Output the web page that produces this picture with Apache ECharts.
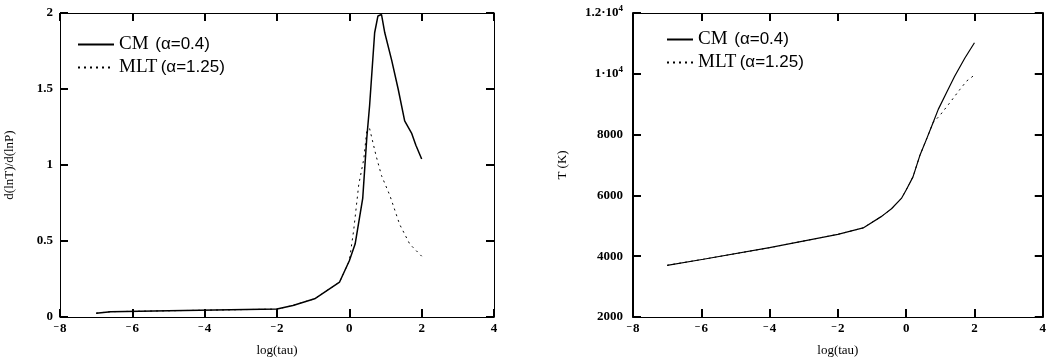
<!DOCTYPE html>
<html>
<head>
<meta charset="utf-8">
<script src="https://cdn.jsdelivr.net/npm/echarts@6/dist/echarts.min.js"></script>
<style>
  html, body { margin: 0; padding: 0; background: #fff; }
  #chart { width: 1049px; height: 362px; }
</style>
</head>
<body>
<div id="chart"></div>
<script>
// legend names
var nameCM = 'CM';
var nameMLT = 'MLT';

// left panel: d(lnT)/d(lnP) against log(tau)
var gradCmTau = [-7, -6.6, -5, -2, -1.56, -0.96, -0.27, 0.0, 0.16, 0.37, 0.48, 0.56, 0.70, 0.79, 0.89, 0.98, 1.17, 1.35, 1.53, 1.72, 1.84, 2.0];
var gradCm    = [0.025, 0.035, 0.041, 0.052, 0.076, 0.12, 0.23, 0.37, 0.48, 0.78, 1.17, 1.39, 1.87, 1.98, 1.99, 1.87, 1.69, 1.50, 1.29, 1.21, 1.13, 1.04];
var gradMltTau = [-7, -6.6, -5, -2, -1.56, -0.96, -0.27, 0.0, 0.12, 0.26, 0.40, 0.48, 0.56, 0.74, 0.89, 1.12, 1.39, 1.67, 2.0];
var gradMlt    = [0.025, 0.035, 0.041, 0.052, 0.076, 0.12, 0.23, 0.37, 0.57, 0.87, 1.04, 1.22, 1.24, 1.06, 0.93, 0.80, 0.61, 0.48, 0.40];

// right panel: T (K) against log(tau)
var tempCmTau = [-7, -5.94, -4, -2, -1.26, -0.72, -0.43, -0.14, 0, 0.2, 0.4, 0.6, 0.79, 0.94, 1.18, 1.42, 1.72, 2.0];
var tempCm    = [3700, 3900, 4280, 4720, 4930, 5310, 5560, 5900, 6180, 6610, 7310, 7860, 8400, 8830, 9380, 9920, 10520, 11020];
var tempMltTau = [-7, -5.94, -4, -2, -1.26, -0.72, -0.43, -0.14, 0, 0.2, 0.4, 0.6, 0.79, 0.98, 1.28, 1.57, 1.77, 2.0];
var tempMlt    = [3700, 3900, 4280, 4720, 4930, 5310, 5560, 5900, 6180, 6610, 7310, 7860, 8400, 8620, 9050, 9480, 9760, 9960];

function pairs(xs, ys) {
  return xs.map(function (x, i) { return [x, ys[i]]; });
}

var serif = 'Liberation Serif';
// symbol that paints nothing, so the legend shows only the line sample
var blankSymbol = 'path://M0,0M10,10';

function labelStyle(extra) {
  return Object.assign({ fontFamily: serif, fontSize: 13, fontWeight: 'bold', color: '#000' }, extra);
}
function nameStyle() {
  return { fontFamily: serif, fontSize: 13, color: '#000' };
}
function axLine(w) {
  return { show: true, onZero: false, lineStyle: { color: '#000', width: w } };
}
function tickIn() {
  return { show: true, inside: true, length: 8, lineStyle: { color: '#000', width: 2 } };
}

// bare axes for the top and right side of each frame
function tickAxis(grid, pos, min, max, step, w) {
  return {
    gridIndex: grid, type: 'value', position: pos, min: min, max: max, interval: step,
    axisLine: axLine(w), axisTick: tickIn(), splitLine: { show: false }, axisLabel: { show: false }
  };
}

function xMinus(v) {
  return v < 0 ? '{m|\u2212}' + Math.abs(v) : String(v);
}
function xRich() {
  return { m: { fontFamily: serif, fontSize: 10, fontWeight: 'bold', color: '#000', padding: [0, 1, 4, 0] } };
}

function tempLabel(v) {
  if (v === 12000) return '1.2\u00b710{s|4}';
  if (v === 10000) return '1\u00b710{s|4}';
  return String(v);
}

var legendRich = {
  a: { fontFamily: serif, fontSize: 19, lineHeight: 20, color: '#000' },
  b: { fontFamily: 'Liberation Sans', fontSize: 17, lineHeight: 20, color: '#000' }
};
function legendFmt(name) {
  if (name === nameCM) return '{a|CM}  {b|(\u03b1=0.4)}';
  return '{a|MLT} {b|(\u03b1=1.25)}';
}

function xAxes(grid) {
  return [
    {
      gridIndex: grid, type: 'value', min: -8, max: 4, interval: 2,
      name: 'log(tau)', nameLocation: 'middle', nameGap: 27, nameTextStyle: nameStyle(),
      axisLine: axLine(1), axisTick: tickIn(), splitLine: { show: false },
      axisLabel: labelStyle({ margin: 5, formatter: xMinus, rich: xRich() })
    },
    tickAxis(grid, 'top', -8, 4, 2, 1)
  ];
}

var chart = echarts.init(document.getElementById('chart'));
chart.setOption({
  animation: false,
  grid: [
    { left: 60, right: 555, top: 13, bottom: 42 },
    { left: 633, right: 6, top: 13, bottom: 42 }
  ],
  legend: [
    {
      orient: 'vertical', left: 72, top: 30, itemWidth: 36, itemHeight: 14, itemGap: 4,
      data: [nameCM, nameMLT], formatter: legendFmt, textStyle: { rich: legendRich }
    },
    {
      orient: 'vertical', left: 661, top: 25, itemWidth: 26, itemHeight: 14, itemGap: 4,
      data: [nameCM, nameMLT], formatter: legendFmt, textStyle: { rich: legendRich }
    }
  ],
  xAxis: xAxes(0).concat(xAxes(1)),
  yAxis: [
    {
      gridIndex: 0, type: 'value', min: 0, max: 2, interval: 0.5,
      name: 'd(lnT)/d(lnP)', nameLocation: 'middle', nameGap: 44, nameRotate: 90, nameTextStyle: nameStyle(),
      axisLine: axLine(1), axisTick: tickIn(), splitLine: { show: false },
      axisLabel: labelStyle({ margin: 7 })
    },
    tickAxis(0, 'right', 0, 2, 0.5, 1),
    {
      gridIndex: 1, type: 'value', min: 2000, max: 12000, interval: 2000,
      name: 'T (K)', nameLocation: 'middle', nameGap: 64, nameRotate: 90, nameTextStyle: nameStyle(),
      axisLine: axLine(2), axisTick: tickIn(), splitLine: { show: false },
      axisLabel: labelStyle({
        margin: 10, formatter: tempLabel,
        rich: { s: { fontFamily: serif, fontSize: 9, fontWeight: 'bold', color: '#000', padding: [0, 0, 9, 0] } }
      })
    },
    tickAxis(1, 'right', 2000, 12000, 2000, 2)
  ],
  series: [
    {
      name: nameCM, type: 'line', xAxisIndex: 0, yAxisIndex: 0,
      symbol: blankSymbol, showSymbol: false,
      lineStyle: { color: '#000', width: 1.5 }, itemStyle: { color: '#000' },
      data: pairs(gradCmTau, gradCm)
    },
    {
      name: nameMLT, type: 'line', xAxisIndex: 0, yAxisIndex: 0,
      symbol: blankSymbol, showSymbol: false,
      lineStyle: { color: '#000', width: 1, type: [2, 4] }, itemStyle: { color: '#000' },
      data: pairs(gradMltTau, gradMlt)
    },
    {
      name: nameCM, type: 'line', xAxisIndex: 2, yAxisIndex: 2,
      symbol: blankSymbol, showSymbol: false,
      lineStyle: { color: '#000', width: 1.2 }, itemStyle: { color: '#000' },
      data: pairs(tempCmTau, tempCm)
    },
    {
      name: nameMLT, type: 'line', xAxisIndex: 2, yAxisIndex: 2,
      symbol: blankSymbol, showSymbol: false,
      lineStyle: { color: '#000', width: 1, type: [2, 4] }, itemStyle: { color: '#000' },
      data: pairs(tempMltTau, tempMlt)
    }
  ]
});
</script>
</body>
</html>
